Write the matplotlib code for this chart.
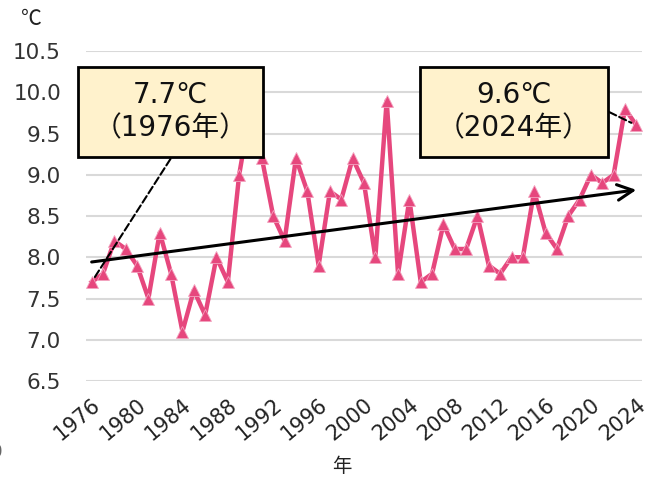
import matplotlib
matplotlib.use("Agg")
import matplotlib.pyplot as plt
from matplotlib.patches import Rectangle
import numpy as np

plt.rcParams["font.family"] = ["DejaVu Sans", "Noto Sans CJK JP"]

years = list(range(1976, 2025))
temps = [7.7, 7.8, 8.2, 8.1, 7.9, 7.5, 8.3, 7.8, 7.1, 7.6,
         7.3, 8.0, 7.7, 9.0, 9.8, 9.2, 8.5, 8.2, 9.2, 8.8,
         7.9, 8.8, 8.7, 9.2, 8.9, 8.0, 9.9, 7.8, 8.7, 7.7,
         7.8, 8.4, 8.1, 8.1, 8.5, 7.9, 7.8, 8.0, 8.0, 8.8,
         8.3, 8.1, 8.5, 8.7, 9.0, 8.9, 9.0, 9.8, 9.6]
xticks = list(range(1976, 2025, 4))
yticks = [6.5, 7.0, 7.5, 8.0, 8.5, 9.0, 9.5, 10.0, 10.5]

PINK = "#e6477d"
BOXFILL = "#fff2cc"
CJK = ["Noto Sans CJK JP", "DejaVu Sans"]

fig = plt.figure(figsize=(6.5, 4.78), dpi=100)
ax = fig.add_axes([0.1323, 0.2029, 0.8554, 0.6904])

for s in ax.spines.values():
    s.set_visible(False)
ax.set_ylim(6.5, 10.5)
ax.set_xlim(1975.5, 2024.5)
ax.set_yticks(yticks)
ax.set_yticklabels([f"{v:.1f}" for v in yticks], fontsize=15.5, color="#333333")
ax.set_xticks(xticks)
ax.set_xticklabels([str(y) for y in xticks], fontsize=15, rotation=40,
                   ha="right", va="top", rotation_mode="anchor", color="#222222")
ax.tick_params(axis="y", length=0, pad=18)
ax.tick_params(axis="x", length=0, pad=10)
ax.grid(axis="y", color="#d9d9d9", lw=1.5)
ax.set_axisbelow(True)

ax.plot(years, temps, color=PINK, lw=3.2, marker="^", ms=8.5,
        markeredgecolor="#f3a3bf", markeredgewidth=0.6, zorder=3)

# trend line
k, b = np.polyfit(years, temps, 1)
ax.annotate("", xy=(years[-1], k * years[-1] + b),
            xytext=(years[0], k * years[0] + b),
            arrowprops=dict(arrowstyle="->", lw=2.2, color="black",
                            mutation_scale=28, shrinkA=0, shrinkB=0),
            zorder=4)

# callout boxes
for (x0, w, txt, idx, start) in [
    (-0.0144, 0.333, f"{temps[0]}℃\n（{years[0]}年）", 0, (0.152, 0.673)),
    (0.6007, 0.338, f"{temps[-1]}℃\n（{years[-1]}年）", -1, (0.941, 0.815)),
]:
    ax.add_patch(Rectangle((x0, 0.679), w, 0.273, transform=ax.transAxes,
                           facecolor=BOXFILL, edgecolor="black", lw=2,
                           clip_on=False, zorder=6))
    ax.text(x0 + w / 2, 0.679 + 0.273 / 2, txt, transform=ax.transAxes,
            ha="center", va="center", fontsize=20, linespacing=1.25,
            color="#111111", zorder=7)
    ax.annotate("", xy=(years[idx], temps[idx]), xytext=start,
                textcoords="axes fraction",
                arrowprops=dict(arrowstyle="-", ls="--", lw=1.5, color="black",
                                shrinkA=0, shrinkB=4), zorder=5)

fig.text(31 / 650, 1 - 19 / 478, "℃", fontsize=15, ha="center", va="center",
         color="#222222", family=CJK)
fig.text(342 / 650, 1 - 466 / 478, "年", fontsize=14, ha="center", va="center",
         color="#222222", family=CJK)
fig.text(0.004, 1 - 452 / 478, "0", fontsize=12, ha="right", va="center",
         color="#666666")

fig.savefig("out.png", dpi=100)
